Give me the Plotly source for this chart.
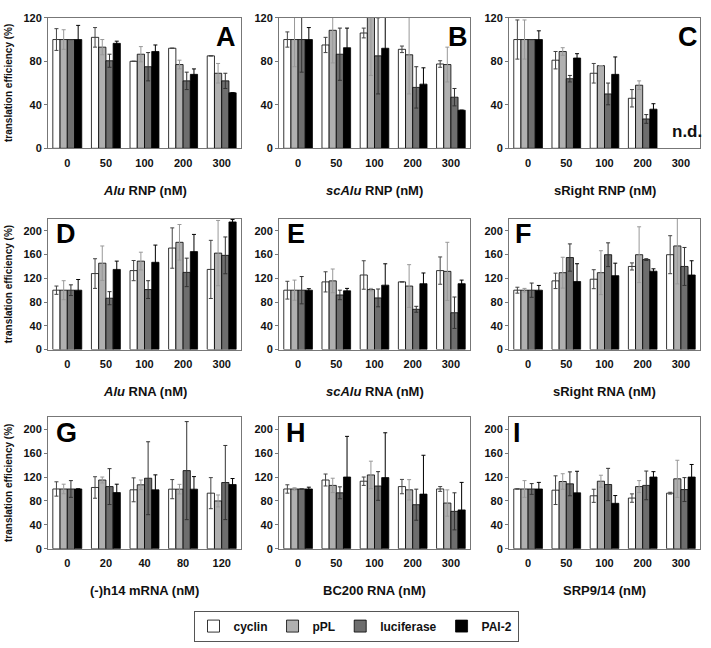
import plotly.graph_objects as go

W, H = 711, 648

series = ["cyclin", "pPL", "luciferase", "PAI-2"]
bar_colors = ["#ffffff", "#b0b0b0", "#6e6e6e", "#000000"]
err_colors = ["#444444", "#999999", "#333333", "#000000"]

conc_std = ["0", "50", "100", "200", "300"]
conc_h14 = ["0", "20", "40", "80", "120"]

# values per series: cyclin, pPL, luciferase, PAI-2
A_vals = [[100, 102, 80, 92, 85], [100, 93, 86.5, 77, 69], [100, 80.5, 75, 62, 62], [100, 96.5, 89, 68, 51]]
A_errs = [[10, 9, 0, 0, 0], [9, 7, 7, 4, 9], [0, 6, 13, 8, 7], [13, 2, 6, 5, 0]]

B_vals = [[100, 95, 106, 91, 77.5], [100, 108.5, 125, 86, 77], [100, 86.5, 85, 56, 47], [100, 92.5, 92, 59, 35]]
B_errs = [[7, 7, 4.5, 3, 3], [25, 30, 58, 36, 16], [30, 24, 35, 19, 8], [11, 18, 30, 15, 0]]

C_vals = [[100, 81, 69, 46, None], [100, 89, 76, 58, None], [100, 64, 50, 27, None], [100, 83, 68, 36, None]]
C_errs = [[18, 8, 9, 8, 0], [18, 3.5, 0, 4, 0], [0, 3, 10, 4, 0], [8, 4, 16, 5, 0]]

D_vals = [[100, 128, 133, 171, 135], [100, 145.5, 149, 180.7, 162.5], [100, 86.5, 101, 130, 158.7], [100, 135, 147, 165, 215]]
D_errs = [[7, 25, 17, 34, 49], [16, 29, 15, 30, 55], [9, 11, 15, 24, 31], [18, 14, 29, 29, 4]]

E_vals = [[100, 114, 125.6, 114, 133], [100, 115.7, 101, 107, 131.7], [100, 92, 87, 67.8, 62], [100, 99, 108.5, 111, 111]]
E_errs = [[15, 17, 24, 0, 23], [17, 20, 2, 36, 49], [23, 8, 15, 5, 26.5], [2.5, 4, 36, 18, 6]]

F_vals = [[100, 115.7, 118.5, 140, 159.8], [100, 129.5, 129.5, 159.8, 174.6], [100, 155, 159.8, 151.5, 140], [100, 114.6, 124.5, 132, 125.6]]
F_errs = [[5, 13, 16, 6, 32], [3, 26, 37, 47, 64], [12, 23, 20, 1.5, 32], [8, 30, 21, 4, 24]]

G_vals = [[100, 102.5, 98.6, 99.7, 93], [100, 115, 107, 99.7, 80], [100, 104, 118, 130.7, 110.8], [100, 94, 98.6, 99.7, 107.5]]
G_errs = [[12, 18, 20, 16, 26], [8, 5, 8, 8, 10], [14, 30, 61, 82, 62], [0, 14, 25, 21, 10]]

H_vals = [[100, 115, 113, 104, 100], [100, 106, 123.5, 98.6, 76.5], [100, 93.6, 105, 73.7, 62.6], [100, 120, 119, 91.4, 65]]
H_errs = [[7, 10, 7, 12, 4], [2, 12, 23, 17, 22], [0, 10, 24, 26, 31], [3, 68, 75, 65, 46]]

I_vals = [[100, 98, 88.6, 84.8, 93], [100, 112.5, 113, 104, 117], [100, 108.6, 107.5, 106, 99], [100, 93.6, 76, 120, 120]]
I_errs = [[0, 24, 11, 7, 1.5], [14, 13, 10, 10, 31], [9, 20, 27, 24, 20], [11, 36, 13, 9, 21]]

panels = [
    ("A", conc_std, A_vals, A_errs, "<i>Alu</i> RNP (nM)"),
    ("B", conc_std, B_vals, B_errs, "<i>scAlu</i> RNP (nM)"),
    ("C", conc_std, C_vals, C_errs, "sRight RNP (nM)"),
    ("D", conc_std, D_vals, D_errs, "<i>Alu</i> RNA (nM)"),
    ("E", conc_std, E_vals, E_errs, "<i>scAlu</i> RNA (nM)"),
    ("F", conc_std, F_vals, F_errs, "sRight RNA (nM)"),
    ("G", conc_h14, G_vals, G_errs, "(-)h14 mRNA (nM)"),
    ("H", conc_std, H_vals, H_errs, "BC200 RNA (nM)"),
    ("I", conc_std, I_vals, I_errs, "SRP9/14 (nM)"),
]

col_px = [(48, 241), (279, 470), (509, 700)]
row_px = [(12, 145), (217, 350), (419, 553)]
letter_pos = {
    "A": (226, 32), "B": (458, 32), "C": (688, 32),
    "D": (66, 232), "E": (296, 232), "F": (523, 232),
    "G": (66, 435), "H": (296, 435), "I": (517, 435),
}

FONT = "Liberation Sans, Arial, sans-serif"

fig = go.Figure()
annotations = []
layout_axes = {}

for i, (letter, cats, vals, errs, xtitle) in enumerate(panels):
    r, c = divmod(i, 3)
    n = i + 1
    xa = "x" if n == 1 else f"x{n}"
    ya = "y" if n == 1 else f"y{n}"
    for s in range(4):
        fig.add_trace(go.Bar(
            x=cats, y=vals[s], name=series[s], legendgroup=series[s],
            showlegend=(i == 0),
            marker=dict(color=bar_colors[s], line=dict(color="#000000", width=0.8)),
            error_y=dict(type="data", array=errs[s], visible=True,
                         color=err_colors[s], thickness=1, width=2),
            xaxis=xa, yaxis=ya,
        ))
    x0, x1 = col_px[c]
    y0, y1 = row_px[r]
    xkey = "xaxis" if n == 1 else f"xaxis{n}"
    ykey = "yaxis" if n == 1 else f"yaxis{n}"
    top = 120 if r == 0 else 220
    layout_axes[xkey] = dict(
        domain=[x0 / W, x1 / W], anchor=ya, type="category",
        showline=True, mirror=True, linecolor="#777777", linewidth=1,
        ticks="", showgrid=False, ticklabelstandoff=4,
        tickfont=dict(family=FONT, size=11, color="#111111", weight="bold"),
    )
    layout_axes[ykey] = dict(
        domain=[1 - y1 / H, 1 - y0 / H], anchor=xa, range=[0, top],
        dtick=40, tick0=0, showline=True, mirror=True, linecolor="#777777",
        linewidth=1, ticks="outside", ticklen=3, tickcolor="#777777",
        showgrid=False, zeroline=False,
        tickfont=dict(family=FONT, size=11, color="#111111", weight="bold"),
    )
    annotations.append(dict(
        text=xtitle, xref="paper", yref="paper",
        x=((x0 + x1) / 2) / W, y=1 - (y1 + 43) / H,
        xanchor="center", yanchor="middle", showarrow=False,
        font=dict(family=FONT, size=13, color="#111111", weight="bold"),
    ))
    lx, ly = letter_pos[letter]
    annotations.append(dict(
        text=letter, xref="paper", yref="paper", x=lx / W, y=1 - ly / H,
        xanchor="center", yanchor="middle", showarrow=False,
        font=dict(family=FONT, size=27, color="#000000", weight="bold"),
    ))
    if c == 0:
        annotations.append(dict(
            text="translation efficiency (%)", xref="paper", yref="paper",
            x=8 / W, y=1 - ((y0 + y1) / 2) / H, textangle=-90,
            xanchor="center", yanchor="middle", showarrow=False,
            font=dict(family=FONT, size=10, color="#111111", weight="bold"),
        ))

annotations.append(dict(
    text="n.d.", xref="paper", yref="paper", x=687 / W, y=1 - 128 / H,
    xanchor="center", yanchor="middle", showarrow=False,
    font=dict(family=FONT, size=17, color="#111111", weight="bold"),
))

fig.update_layout(
    width=W, height=H, margin=dict(l=0, r=0, t=0, b=0),
    paper_bgcolor="white", plot_bgcolor="white",
    barmode="group", bargap=0.25, bargroupgap=0,
    showlegend=True,
    legend=dict(
        orientation="h", x=356 / W, xanchor="center", y=1 - 616 / H, yanchor="top",
        bordercolor="#555555", borderwidth=1, bgcolor="white",
        font=dict(family=FONT, size=12, color="#111111", weight="bold"),
        itemwidth=30, tracegroupgap=0,
    ),
    annotations=annotations,
    **layout_axes,
)

fig.write_html("out.html")
